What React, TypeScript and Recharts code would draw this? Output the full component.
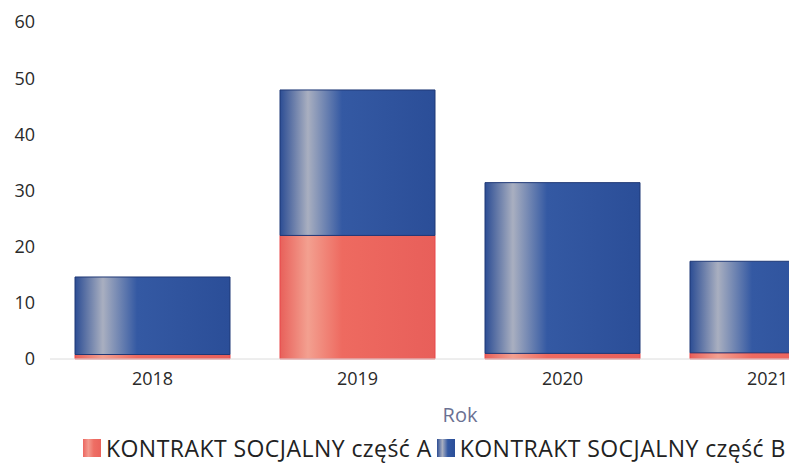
import { BarChart, Bar, XAxis, YAxis, CartesianGrid } from 'recharts';

const years = ['2018', '2019', '2020', '2021'];
const partA = [0.8, 22, 1, 1.1];
const partB = [13.8, 25.9, 30.4, 16.3];
const yTicks = [0, 10, 20, 30, 40, 50, 60];
const seriesNames = ['KONTRAKT SOCJALNY część A', 'KONTRAKT SOCJALNY część B'];

const data = years.map((year, i) => ({ year, a: partA[i], b: partB[i] }));

const font = '"Open Sans", "Noto Sans", sans-serif';

export default function App() {
  return (
    <div style={{ position: 'relative', width: 789, height: 459, overflow: 'hidden', fontFamily: font, background: '#fff' }}>
      <BarChart
        width={900}
        height={459}
        data={data}
        margin={{ top: 14, right: 38, bottom: 48, left: 0 }}
        barCategoryGap={25}
      >
        <defs>
          <linearGradient id="gradB" x1="0" y1="0" x2="1" y2="0">
            <stop offset="0%" stopColor="#2c4d94" />
            <stop offset="18%" stopColor="#a9afc0" />
            <stop offset="40%" stopColor="#3459a3" />
            <stop offset="100%" stopColor="#2b4e98" />
          </linearGradient>
          <linearGradient id="gradA" x1="0" y1="0" x2="1" y2="0">
            <stop offset="0%" stopColor="#e8605a" />
            <stop offset="18%" stopColor="#f3a090" />
            <stop offset="40%" stopColor="#ee6a60" />
            <stop offset="100%" stopColor="#e85f5a" />
          </linearGradient>
        </defs>
        <CartesianGrid vertical={false} horizontal={false} />
        <XAxis
          dataKey="year"
          height={60}
          axisLine={{ stroke: '#dcdcdc' }}
          tickLine={false}
          tickMargin={7}
          tick={{ fill: '#2a2a2a', fontSize: 18, fontFamily: font }}
          label={{ value: 'Rok', position: 'insideBottom', offset: -3, fill: '#6b7193', fontSize: 20, fontFamily: font }}
        />
        <YAxis
          width={42}
          domain={[0, 60]}
          ticks={yTicks}
          axisLine={false}
          tickLine={false}
          tickMargin={9}
          tick={{ fill: '#2a2a2a', fontSize: 18, fontFamily: font }}
        />
        <Bar dataKey="a" stackId="s" name={seriesNames[0]} fill="url(#gradA)" stroke="#e8484a" strokeWidth={1} isAnimationActive={false} />
        <Bar dataKey="b" stackId="s" name={seriesNames[1]} fill="url(#gradB)" stroke="#1f3876" strokeWidth={1} isAnimationActive={false} />
      </BarChart>
      <div style={{ position: 'absolute', left: 75, top: 426, display: 'flex', alignItems: 'center', whiteSpace: 'nowrap', fontSize: 23, lineHeight: '28px', letterSpacing: 0.45, color: '#222', fontFamily: font }}>
        <span style={{ display: 'inline-block', width: 18, height: 18, background: 'linear-gradient(to right, #ec6660, #f39a8e 30%, #ee6e64 60%, #ea635c)', marginRight: 5 }} />
        <span style={{ marginRight: 5 }}>{seriesNames[0]}</span>
        <span style={{ display: 'inline-block', width: 18, height: 18, background: 'linear-gradient(to right, #2c4d94, #a9afc0 30%, #3459a3 60%, #2b4e98)', marginRight: 5 }} />
        <span>{seriesNames[1]}</span>
      </div>
    </div>
  );
}
